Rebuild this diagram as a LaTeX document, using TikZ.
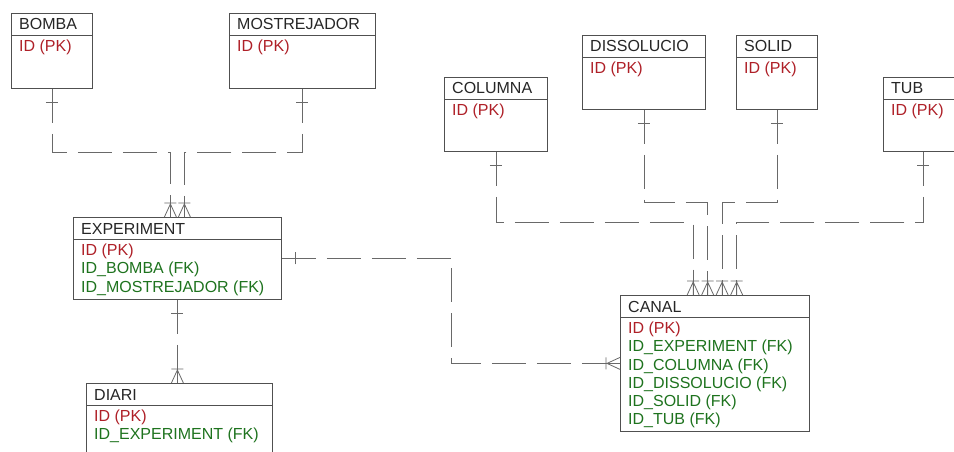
\documentclass[tikz,border=0pt]{standalone}
\usepackage{fontspec}
\setmainfont{Liberation Sans}
\usetikzlibrary{calc,decorations.markings}

\definecolor{pkred}{RGB}{175,32,40}
\definecolor{fkgreen}{RGB}{30,115,30}
\definecolor{boxgray}{RGB}{80,80,80}
\definecolor{relgray}{RGB}{105,105,105}

\newcommand{\pkrow}[1]{\textcolor{pkred}{#1}}
\newcommand{\fkrow}[1]{\textcolor{fkgreen}{#1}}

% entity: name, north west corner, width, height, title, rows
\newcommand{\entity}[6]{%
  \node[entity, minimum width=#3, minimum height=#4] (#1) at #2 {};
  \draw[boxgray, line width=0.8pt] ([yshift=-22pt]#1.north west) -- ([yshift=-22pt]#1.north east);
  \node[etitle] (#1-title) at ([shift={(8pt,-17pt)}]#1.north west) {#5};
  \node[erows] (#1-rows) at ([shift={(8pt,-27pt)}]#1.north west) {#6};
}

\begin{document}
\begin{tikzpicture}[
        x=1pt, y=-1pt,
        font=\fontsize{16}{18.2}\selectfont,
        entity/.style={draw=boxgray, line width=0.8pt, fill=white, anchor=north west, inner sep=0pt},
        etitle/.style={anchor=base west, inner sep=0pt, text=black!85},
        erows/.style={anchor=north west, inner sep=0pt, align=left},
        rel/.style={draw=relgray, line width=0.8pt, dash pattern=on 34pt off 11pt},
        one/.style={postaction={decorate, decoration={markings,
            mark=at position 14pt with {\draw[relgray, solid, line width=0.8pt] (0,-6pt) -- (0,6pt);}}}},
        many/.style={postaction={decorate, decoration={markings,
            mark=at position 1 with {\draw[relgray, solid, line width=0.8pt]
                (-13pt,0) -- (0,6pt) (-13pt,0) -- (0,-6pt) (-14pt,-6pt) -- (-14pt,6pt) (-14pt,0) -- (0,0);}}}}
    ]
    \clip (0,0) rectangle (954,452);
    \fill[white] (0,0) rectangle (954,452);

    % left group
    \entity{bomba}{(11,13)}{81pt}{75pt}{BOMBA}{\pkrow{ID (PK)}}
    \entity{mostrejador}{(229,13)}{146pt}{75pt}{MOSTREJADOR}{\pkrow{ID (PK)}}
    \entity{experiment}{(73,217)}{208pt}{82pt}{EXPERIMENT}{\pkrow{ID (PK)}\\\fkrow{ID\_BOMBA (FK)}\\\fkrow{ID\_MOSTREJADOR (FK)}}
    \entity{diari}{(86,383)}{186pt}{90pt}{DIARI}{\pkrow{ID (PK)}\\\fkrow{ID\_EXPERIMENT (FK)}}

    % right group
    \entity{columna}{(444,77)}{103pt}{74pt}{COLUMNA}{\pkrow{ID (PK)}}
    \entity{dissolucio}{(582,35)}{123pt}{74pt}{DISSOLUCIO}{\pkrow{ID (PK)}}
    \entity{solid}{(736,35)}{81pt}{74pt}{SOLID}{\pkrow{ID (PK)}}
    \entity{tub}{(883,77)}{80pt}{74pt}{TUB}{\pkrow{ID (PK)}}
    \entity{canal}{(620,295)}{189pt}{136pt}{CANAL}{\pkrow{ID (PK)}\\\fkrow{ID\_EXPERIMENT (FK)}\\\fkrow{ID\_COLUMNA (FK)}\\\fkrow{ID\_DISSOLUCIO (FK)}\\\fkrow{ID\_SOLID (FK)}\\\fkrow{ID\_TUB (FK)}}

    % relations
    \draw[rel, one, many] (bomba.south) -- ++(0,64) -| ([xshift=-7pt]experiment.north);
    \draw[rel, one, many] (mostrejador.south) -- ++(0,64) -| ([xshift=7pt]experiment.north);
    \draw[rel, one, many] (experiment.south) -- (experiment.south |- diari.north);
    \draw[rel, one, many] (experiment.east) -- ++(170,0) |- (canal.west);
    \draw[rel, one, many] (columna.south) -- ++(0,71) -| ([xshift=-21.75pt]canal.north);
    \draw[rel, one, many] (dissolucio.south) -- ++(0,93) -| ([xshift=-7.25pt]canal.north);
    \draw[rel, one, many] (solid.south) -- ++(0,93) -| ([xshift=7.25pt]canal.north);
    \draw[rel, one, many] (tub.south) -- ++(0,71) -| ([xshift=21.75pt]canal.north);
\end{tikzpicture}
\end{document}
